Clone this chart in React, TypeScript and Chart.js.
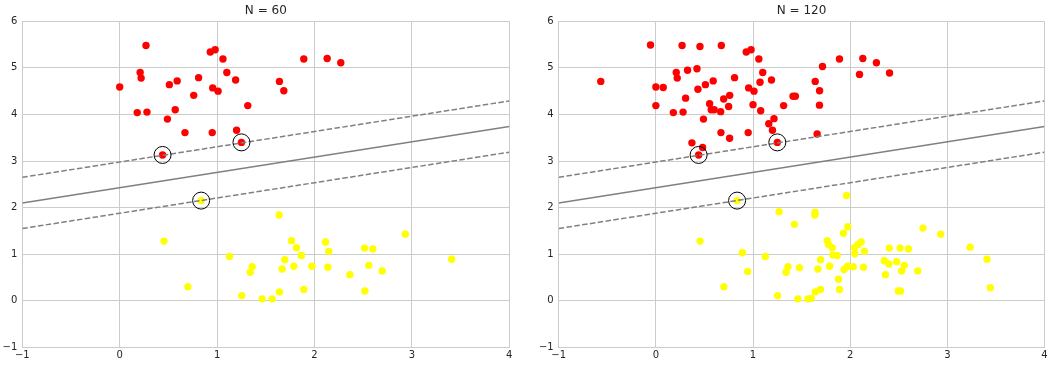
import React, { useEffect, useRef } from "react";
import { Chart, registerables } from "chart.js";

Chart.register(...registerables);

// ---- data ----
const red60X = [0.0, 0.27, 0.21, 0.22, 0.18, 0.28, 0.51, 0.59, 0.57, 0.49, 0.67, 0.76, 0.81, 0.93, 0.98, 0.955, 1.01, 0.95, 1.06, 1.1, 1.19, 1.315, 1.2, 1.25, 0.44, 1.89, 2.13, 2.27, 1.64, 1.685];
const red60Y = [4.59, 5.48, 4.9, 4.78, 4.04, 4.05, 4.64, 4.72, 4.1, 3.9, 3.61, 4.41, 4.79, 5.34, 5.39, 4.57, 4.5, 3.61, 5.19, 4.9, 4.74, 4.19, 3.66, 3.4, 3.13, 5.19, 5.2, 5.11, 4.71, 4.51];
const yellow60X = [0.836, 0.455, 0.7, 1.127, 1.36, 1.34, 1.253, 1.462, 1.565, 1.637, 1.764, 1.815, 1.866, 1.695, 1.668, 1.788, 1.973, 1.64, 1.89, 2.113, 2.147, 2.137, 2.363, 2.514, 2.599, 2.558, 2.695, 2.517, 2.932, 3.408];
const yellow60Y = [2.15, 1.28, 0.3, 0.95, 0.73, 0.61, 0.11, 0.04, 0.04, 1.84, 1.29, 1.14, 0.97, 0.88, 0.68, 0.74, 0.74, 0.19, 0.24, 1.26, 1.06, 0.72, 0.56, 1.13, 1.11, 0.76, 0.64, 0.21, 1.43, 0.89];

const redExtraX = [-0.567, -0.055, 0.076, 0.0, 0.326, 0.423, 0.454, 0.306, 0.433, 0.553, 0.6, 0.667, 0.698, 0.674, 0.749, 0.759, 0.371, 0.481, 1.0, 1.072, 1.079, 1.162, 1.216, 1.412, 1.436, 1.684, 1.715, 2.096, 2.405, 1.66];
const redExtraY = [4.71, 5.49, 4.58, 4.19, 4.95, 4.98, 5.46, 4.35, 4.54, 4.23, 4.1, 4.06, 4.33, 5.48, 4.17, 3.49, 3.39, 3.29, 4.21, 4.69, 4.08, 3.8, 3.91, 4.39, 4.39, 4.2, 5.03, 4.86, 4.89, 3.58];
const yellowExtraX = [0.89, 0.945, 1.268, 1.426, 1.478, 1.962, 1.639, 1.976, 1.931, 1.777, 2.082, 2.045, 2.048, 1.821, 1.938, 2.031, 1.88, 1.694, 1.598, 2.402, 2.351, 2.399, 2.478, 2.529, 2.495, 2.749, 3.234, 3.443];
const yellowExtraY = [1.03, 0.63, 1.91, 1.64, 0.71, 2.26, 1.9, 1.59, 1.45, 1.21, 1.21, 1.14, 1.01, 0.98, 0.67, 0.73, 0.46, 0.24, 0.05, 1.13, 0.86, 0.79, 0.84, 0.64, 0.21, 1.56, 1.15, 0.28];

const supportX = [0.44, 1.25, 0.836];
const supportY = [3.13, 3.4, 2.15];

const lineX = [-1, 4];
const decisionY = [2.1, 3.74];
const marginUpperY = [2.65, 4.29];
const marginLowerY = [1.55, 3.19];

const xTicks = [-1, 0, 1, 2, 3, 4];
const xTickLabels = ["\u22121", "0", "1", "2", "3", "4"];
const yTicks = [-1, 0, 1, 2, 3, 4, 5, 6];
const yTickLabels = ["\u22121", "0", "1", "2", "3", "4", "5", "6"];

const titles = ["N = 60", "N = 120"];

// ---- helpers ----
const pts = (xs: number[], ys: number[]) => xs.map((x, i) => ({ x, y: ys[i] }));

const FONT = '"DejaVu Sans", "Liberation Sans", sans-serif';
const TEXT = "#262626";
const GRID = "#cccccc";

const titlePlugin = {
  id: "panelTitle",
  afterDraw(chart: any, _args: any, opts: any) {
    const { ctx, chartArea } = chart;
    ctx.save();
    ctx.font = `12px ${FONT}`;
    ctx.fillStyle = TEXT;
    ctx.textAlign = "center";
    ctx.textBaseline = "middle";
    ctx.fillText(opts.text, (chartArea.left + chartArea.right) / 2, 11);
    ctx.restore();
  },
};

type PanelProps = {
  title: string;
  redX: number[];
  redY: number[];
  yellowX: number[];
  yellowY: number[];
  padLeft: number;
  padRight: number;
};

function Panel(p: PanelProps) {
  const ref = useRef<HTMLCanvasElement | null>(null);
  useEffect(() => {
    if (!ref.current) return;
    const lineStyle = { borderColor: "#808080", borderWidth: 1.5, pointRadius: 0, showLine: true, fill: false, type: "line" as const };
    const chart = new Chart(ref.current, {
      type: "scatter",
      data: {
        datasets: [
          {
            data: pts(p.redX, p.redY),
            backgroundColor: "#ff0000",
            borderWidth: 0,
            pointRadius: 3.7,
            order: 3,
          },
          {
            data: pts(p.yellowX, p.yellowY),
            backgroundColor: "#ffff00",
            borderWidth: 0,
            pointRadius: 3.7,
            order: 3,
          },
          { ...lineStyle, data: pts(lineX, marginLowerY), borderDash: [5.5, 2.4], order: 2 },
          { ...lineStyle, data: pts(lineX, decisionY), order: 2 },
          { ...lineStyle, data: pts(lineX, marginUpperY), borderDash: [5.5, 2.4], order: 2 },
          {
            data: pts(supportX, supportY),
            backgroundColor: "rgba(0,0,0,0)",
            borderColor: "#000000",
            borderWidth: 1,
            pointRadius: 8.5,
            order: 1,
          },
        ] as any,
      },
      options: {
        animation: false,
        responsive: false,
        devicePixelRatio: 1,
        events: [],
        layout: { padding: { top: 21.3, left: p.padLeft, right: p.padRight, bottom: 0 } },
        plugins: {
          legend: { display: false },
          tooltip: { enabled: false },
          title: { display: false },
          panelTitle: { text: p.title },
        } as any,
        scales: {
          x: {
            type: "linear",
            min: -1,
            max: 4,
            afterBuildTicks: (s: any) => {
              s.ticks = xTicks.map((v) => ({ value: v }));
            },
            afterFit: (s: any) => {
              s.height = 19.7;
            },
            ticks: {
              color: TEXT,
              font: { family: FONT, size: 10 },
              padding: 2,
              maxRotation: 0,
              callback: (v: any) => xTickLabels[xTicks.indexOf(Number(v))],
            },
            grid: { color: GRID, lineWidth: 1, drawTicks: false },
            border: { color: GRID, width: 1 },
          },
          y: {
            type: "linear",
            min: -1,
            max: 6,
            afterBuildTicks: (s: any) => {
              s.ticks = yTicks.map((v) => ({ value: v }));
            },
            afterFit: (s: any) => {
              s.width = 22.3;
            },
            ticks: {
              color: TEXT,
              font: { family: FONT, size: 10 },
              padding: 5,
              callback: (v: any) => yTickLabels[yTicks.indexOf(Number(v))],
            },
            grid: { color: GRID, lineWidth: 1, drawTicks: false },
            border: { color: GRID, width: 1 },
          },
        },
      } as any,
      plugins: [titlePlugin as any],
    });
    return () => chart.destroy();
  }, []);
  return <canvas ref={ref} width={527} height={367} style={{ display: "block", width: 527, height: 367 }} />;
}

export default function App() {
  const red120X = [...red60X, ...redExtraX];
  const red120Y = [...red60Y, ...redExtraY];
  const yellow120X = [...yellow60X, ...yellowExtraX];
  const yellow120Y = [...yellow60Y, ...yellowExtraY];
  return (
    <div style={{ position: "absolute", left: 0, top: 0, width: 1054, height: 367, background: "#ffffff", display: "flex" }}>
      <Panel title={titles[0]} redX={red60X} redY={red60Y} yellowX={yellow60X} yellowY={yellow60Y} padLeft={0} padRight={17.7} />
      <Panel title={titles[1]} redX={red120X} redY={red120Y} yellowX={yellow120X} yellowY={yellow120Y} padLeft={9.4} padRight={8.7} />
    </div>
  );
}
